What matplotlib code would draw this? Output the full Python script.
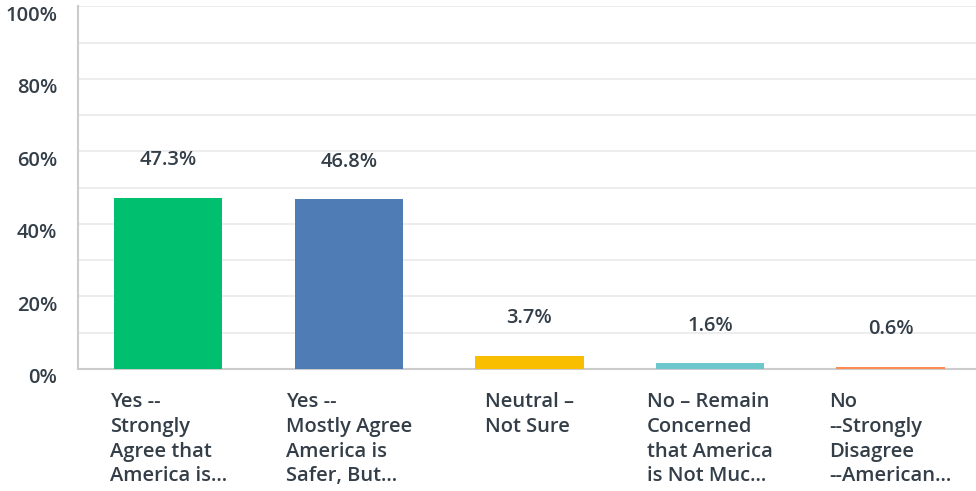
import numpy as np
import matplotlib.transforms as mtrans
from matplotlib import pyplot as plt

# data
categories = ["Yes --\nStrongly\nAgree that\nAmerica is...",
              "Yes --\nMostly Agree\nAmerica is\nSafer, But...",
              "Neutral \u2013\nNot Sure",
              "No \u2013 Remain\nConcerned\nthat America\nis Not Muc...",
              "No\n--Strongly\nDisagree\n--American..."]
values = [47.3, 46.8, 3.7, 1.6, 0.6]
colors = ["#00bf6f", "#507cb6", "#f9be00", "#6bc8cd", "#ff8b4f"]
yticks = [0, 20, 40, 60, 80, 100]

text_col = "#333e48"
fs = 14.5
plt.rcParams['font.family'] = ['Open Sans', 'DejaVu Sans']

fig = plt.figure(figsize=(9.76, 4.91), dpi=100)
ax = fig.add_axes([0.0799, 0.2485, 0.925, 0.7383])

x = np.arange(len(values))
bw = 0.6
ax.bar(x, values, width=bw, color=colors, zorder=3)

ax.set_xlim(-0.5, len(values) - 0.5)
ax.set_ylim(0, 100)
ax.set_yticks(yticks)
ax.set_yticklabels([f"{t}%" for t in yticks], fontsize=fs, fontweight='semibold', color=text_col)
ax.set_yticks(np.arange(0, 101, 10), minor=True)
ax.set_xticks([])
ax.tick_params(axis='y', which='both', length=0, pad=15)
ax.grid(axis='y', which='both', color='#ececec', linewidth=1.3, zorder=0)
# tick labels sit a bit below their gridline
shift = mtrans.ScaledTranslation(0, -7 / 100, fig.dpi_scale_trans)
for lbl in ax.get_yticklabels():
    lbl.set_transform(lbl.get_transform() + shift)

for s in ['top', 'right']:
    ax.spines[s].set_visible(False)
for s in ['left', 'bottom']:
    ax.spines[s].set_color('#cccccc')
    ax.spines[s].set_linewidth(1.5)

# value labels
for xi, v in zip(x, values):
    ax.annotate(f"{v}%", (xi, v), xytext=(0, 27), textcoords='offset points',
                ha='center', va='center', fontsize=fs, fontweight='semibold', color=text_col)

# category labels: block centred under the bar, lines left-aligned
for xi, lab in zip(x, categories):
    ax.annotate(lab, (xi, 0), xycoords=('data', 'axes fraction'),
                xytext=(0, -16.5), textcoords='offset points',
                ha='center', va='top', multialignment='left',
                fontsize=fs, fontweight='semibold', color=text_col,
                linespacing=1.32)

fig.savefig('out.png', dpi=100)
